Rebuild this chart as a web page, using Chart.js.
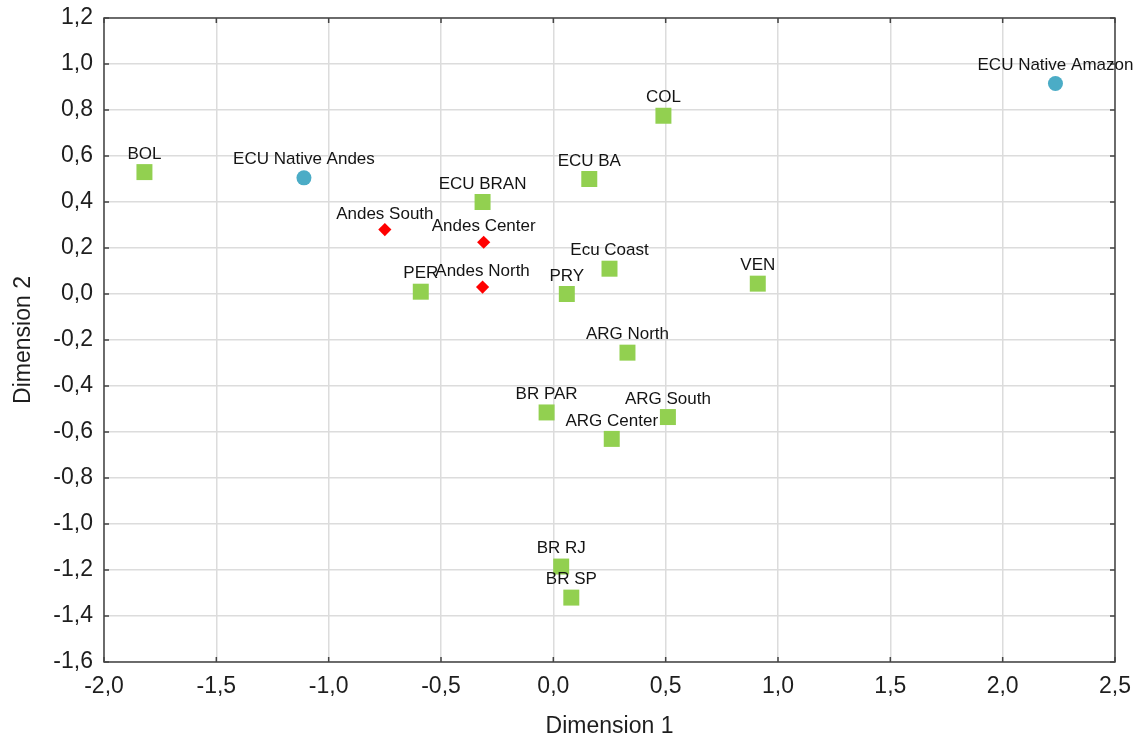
<!DOCTYPE html>
<html>
<head>
<meta charset="utf-8">
<script src="https://cdn.jsdelivr.net/npm/chart.js@4.4.1/dist/chart.umd.min.js"></script>
<style>
  html, body { margin: 0; padding: 0; background: #ffffff; }
  canvas { display: block; }
</style>
</head>
<body>
<canvas id="chart" width="1140" height="740"></canvas>
<script>
// Populations (green squares)
const popNames = ['BOL', 'COL', 'ECU BA', 'ECU BRAN', 'PER', 'PRY', 'Ecu Coast', 'VEN',
                  'ARG North', 'BR PAR', 'ARG South', 'ARG Center', 'BR RJ', 'BR SP'];
const popDim1  = [-1.82, 0.49, 0.16, -0.315, -0.59, 0.06, 0.25, 0.91, 0.33, -0.03, 0.51, 0.26, 0.035, 0.08];
const popDim2  = [0.53, 0.775, 0.50, 0.40, 0.01, 0.00, 0.11, 0.045, -0.255, -0.515, -0.535, -0.63, -1.185, -1.32];

// Native groups (blue circles)
const nativeNames = ['ECU Native Andes', 'ECU Native Amazon'];
const nativeDim1  = [-1.11, 2.235];
const nativeDim2  = [0.505, 0.915];

// Andean regions (red diamonds)
const andesNames = ['Andes South', 'Andes Center', 'Andes North'];
const andesDim1  = [-0.75, -0.31, -0.315];
const andesDim2  = [0.28, 0.225, 0.03];

// Axis ranges and tick steps
const xMin = -2.0, xMax = 2.5, xStep = 0.5;
const yMin = -1.6, yMax = 1.2, yStep = 0.2;

const toPoints = (xs, ys) => xs.map((x, i) => ({ x: x, y: ys[i] }));
const fmt = v => (Math.abs(v) < 1e-9 ? 0 : v).toFixed(1).replace('.', ',');

const FONT = '"Liberation Sans", Arial, Helvetica, sans-serif';
const TEXT = '#1e1e1e';

// Box around the plot with short inward tick marks on every side
const frame = {
  id: 'frame',
  beforeDatasetsDraw(chart) {
    const { ctx, chartArea: a, scales } = chart;
    ctx.save();
    ctx.strokeStyle = '#444444';
    ctx.lineWidth = 1.5;
    ctx.strokeRect(a.left, a.top, a.right - a.left, a.bottom - a.top);
    ctx.beginPath();
    const len = 5;
    scales.x.ticks.forEach(t => {
      const px = scales.x.getPixelForValue(t.value);
      ctx.moveTo(px, a.bottom); ctx.lineTo(px, a.bottom - len);
      ctx.moveTo(px, a.top);    ctx.lineTo(px, a.top + len);
    });
    scales.y.ticks.forEach(t => {
      const py = scales.y.getPixelForValue(t.value);
      ctx.moveTo(a.left, py);  ctx.lineTo(a.left + len, py);
      ctx.moveTo(a.right, py); ctx.lineTo(a.right - len, py);
    });
    ctx.stroke();
    ctx.restore();
  }
};

// Name written above each marker
const pointLabels = {
  id: 'pointLabels',
  afterDatasetsDraw(chart) {
    const ctx = chart.ctx;
    ctx.save();
    ctx.font = '17px ' + FONT;
    ctx.fillStyle = '#141414';
    ctx.textAlign = 'center';
    ctx.textBaseline = 'alphabetic';
    chart.data.datasets.forEach((ds, i) => {
      chart.getDatasetMeta(i).data.forEach((pt, j) => {
        ctx.fillText(ds.names[j], pt.x, pt.y - ds.labelLift);
      });
    });
    ctx.restore();
  }
};

const axisTicks = (step) => ({
  stepSize: step,
  autoSkip: false,
  maxRotation: 0,
  color: TEXT,
  font: { family: FONT, size: 23 },
  padding: 11,
  callback: v => fmt(v)
});
const gridOpts = { color: '#dcdcdc', lineWidth: 1.5, drawTicks: false };

new Chart(document.getElementById('chart'), {
  type: 'scatter',
  data: {
    datasets: [
      {
        label: 'Populations',
        names: popNames,
        labelLift: 13.4,
        data: toPoints(popDim1, popDim2),
        pointStyle: 'rect',
        pointRadius: 11.3,
        pointHoverRadius: 11.3,
        backgroundColor: '#92d050',
        borderWidth: 0
      },
      {
        label: 'Native',
        names: nativeNames,
        labelLift: 13.5,
        data: toPoints(nativeDim1, nativeDim2),
        pointStyle: 'circle',
        pointRadius: 7.5,
        pointHoverRadius: 7.5,
        backgroundColor: '#4bacc6',
        borderWidth: 0
      },
      {
        label: 'Andes',
        names: andesNames,
        labelLift: 10.9,
        data: toPoints(andesDim1, andesDim2),
        pointStyle: 'rectRot',
        pointRadius: 6.6,
        pointHoverRadius: 6.6,
        backgroundColor: '#ff0000',
        borderWidth: 0
      }
    ]
  },
  options: {
    responsive: false,
    devicePixelRatio: 1,
    animation: false,
    layout: { padding: { top: 18, right: 25, left: 0, bottom: 0 } },
    plugins: { legend: { display: false }, tooltip: { enabled: false } },
    scales: {
      x: {
        type: 'linear',
        min: xMin, max: xMax,
        ticks: axisTicks(xStep),
        grid: gridOpts,
        border: { display: false },
        title: {
          display: true, text: 'Dimension 1', color: TEXT,
          font: { family: FONT, size: 23 }, padding: { top: 0, bottom: 0 }
        },
        afterFit(s) { s.height = 78; s.paddingLeft = 0; s.paddingRight = 0; }
      },
      y: {
        type: 'linear',
        min: yMin, max: yMax,
        ticks: axisTicks(yStep),
        grid: gridOpts,
        border: { display: false },
        title: {
          display: true, text: 'Dimension 2', color: TEXT,
          font: { family: FONT, size: 23 }, padding: { top: 10, bottom: 0 }
        },
        afterFit(s) { s.width = 104; s.paddingTop = 0; s.paddingBottom = 0; }
      }
    }
  },
  plugins: [frame, pointLabels]
});
</script>
</body>
</html>
